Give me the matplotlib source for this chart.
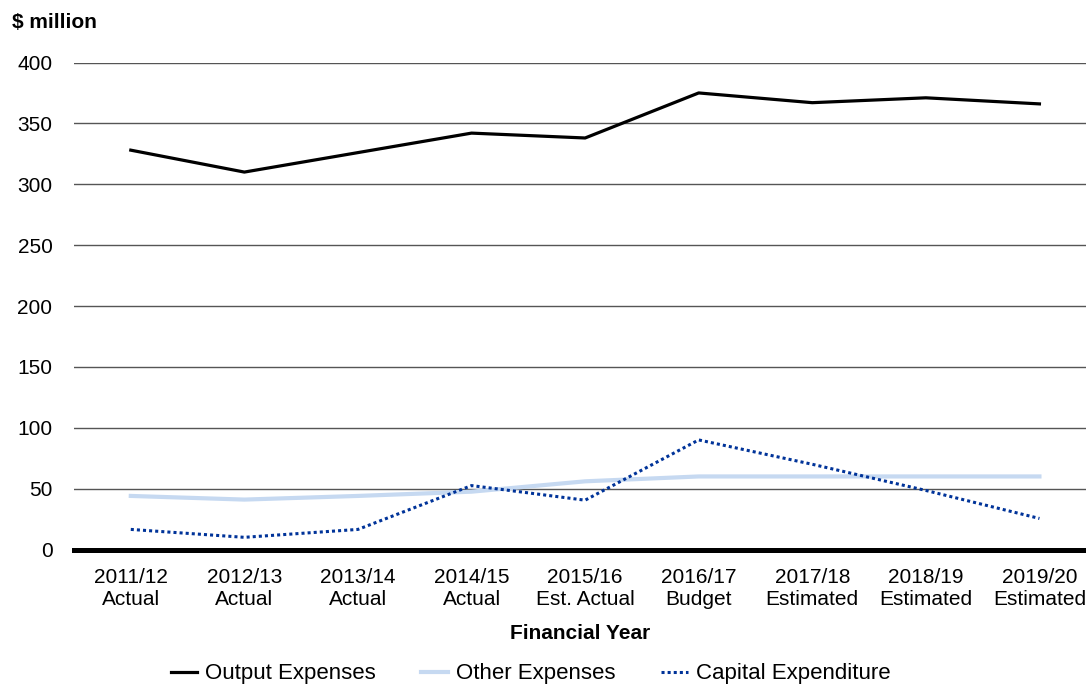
import numpy as np
import matplotlib
matplotlib.use("Agg")
import matplotlib.pyplot as plt

plt.rcParams['font.family'] = ['Liberation Sans', 'DejaVu Sans']

years = ["2011/12", "2012/13", "2013/14", "2014/15", "2015/16",
         "2016/17", "2017/18", "2018/19", "2019/20"]
status = ["Actual", "Actual", "Actual", "Actual", "Est. Actual",
          "Budget", "Estimated", "Estimated", "Estimated"]

output_exp = [328, 310, 326, 342, 338, 375, 367, 371, 366]
other_exp = [44, 41, 44, 47.5, 56, 60, 60, 60, 60]
capital_exp = [16.5, 10, 16.5, 52.5, 40.5, 90, 70, 48.5, 25.5]

fig = plt.figure(figsize=(10.86, 6.86), dpi=100)
ax = fig.add_axes([74/1086, 1 - 549.5/686, 1 - 74/1086, 487/686])

x = np.arange(len(years))
l1, = ax.plot(x, output_exp, color='black', lw=2.3, label='Output Expenses',
              solid_joinstyle='round', zorder=4)
l2, = ax.plot(x, other_exp, color='#C6D9F1', lw=3.0, label='Other Expenses',
              zorder=3)
l3, = ax.plot(x, capital_exp, color='#003399', lw=2.2, ls=(0, (1, 1)),
              label='Capital Expenditure', zorder=5)

ax.set_xlim(-0.5, 8.41)
ax.set_ylim(0, 400)
ax.set_yticks(range(0, 401, 50))
ax.set_xticks(x)
ax.set_xticklabels([f"{y}\n{s}" for y, s in zip(years, status)],
                   fontsize=15, linespacing=1.2)
ax.tick_params(axis='y', labelsize=15, length=0, pad=15.5)
ax.tick_params(axis='x', length=0, pad=13)
ax.yaxis.grid(True, color='#555555', lw=1.0)
ax.set_axisbelow(True)
for s in ['top', 'right', 'left']:
    ax.spines[s].set_visible(False)
ax.spines['bottom'].set_linewidth(3.6)
ax.spines['bottom'].set_color('black')
ax.spines['bottom'].set_zorder(6)

ax.set_xlabel("Financial Year", fontsize=15, fontweight='bold', labelpad=11)
fig.text(12/1086, 1 - 22/686, "$ million", fontsize=15, fontweight='bold',
         va='center', ha='left')

fig.legend(handles=[l1, l2, l3], loc='center', bbox_to_anchor=(0.4885, 0.0175),
           ncol=3, frameon=False, fontsize=16, handlelength=1.2,
           handletextpad=0.36, columnspacing=2.05)

fig.savefig("out.png", dpi=100)
